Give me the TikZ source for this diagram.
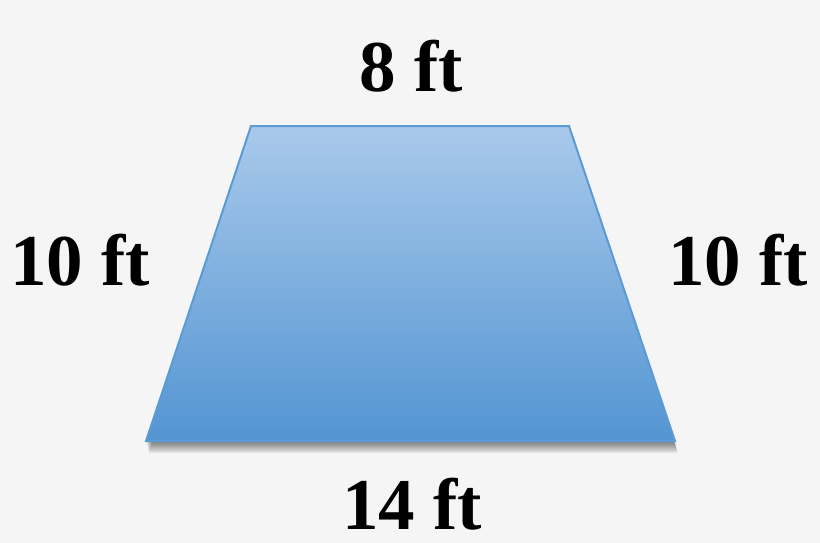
\documentclass[tikz,border=0pt]{standalone}
\usepackage{fontspec}
\setmainfont{Liberation Serif}
\definecolor{bg}{HTML}{F5F5F5}
\definecolor{topblue}{HTML}{A9C9EB}
\definecolor{botblue}{HTML}{5395D2}
\definecolor{edgeblue}{HTML}{5B9BD5}
\tikzset{
  lbl/.style={font=\fontsize{73}{80}\selectfont\bfseries, anchor=base, inner sep=0pt},
  shadowlayer/.style={fill=black, fill opacity=0.055},
}
\begin{document}
\begin{tikzpicture}[x=1pt,y=-1pt]
\fill[bg] (0,0) rectangle (820,543);
\useasboundingbox (0,0) rectangle (820,543);
\coordinate (tl) at (251,126);
\coordinate (tr) at (569,126);
\coordinate (br) at (675,441);
\coordinate (bl) at (146,441);
\foreach \i in {1,...,11}{
  \fill[shadowlayer, transform canvas={xshift=0.25*\i pt, yshift=-1.1*\i pt}] (tl) -- (tr) -- (br) -- (bl) -- cycle;
}
\path[top color=topblue, bottom color=botblue, draw=edgeblue, line width=2pt, line join=miter]
  (tl) -- (tr) -- (br) -- (bl) -- cycle;
\node[lbl] (top) at (411,92) {8 ft};
\node[lbl] (left) at (80,285) {10 ft};
\node[lbl] (right) at (738,285) {10 ft};
\node[lbl] (bottom) at (412,529) {14 ft};
\end{tikzpicture}
\end{document}
